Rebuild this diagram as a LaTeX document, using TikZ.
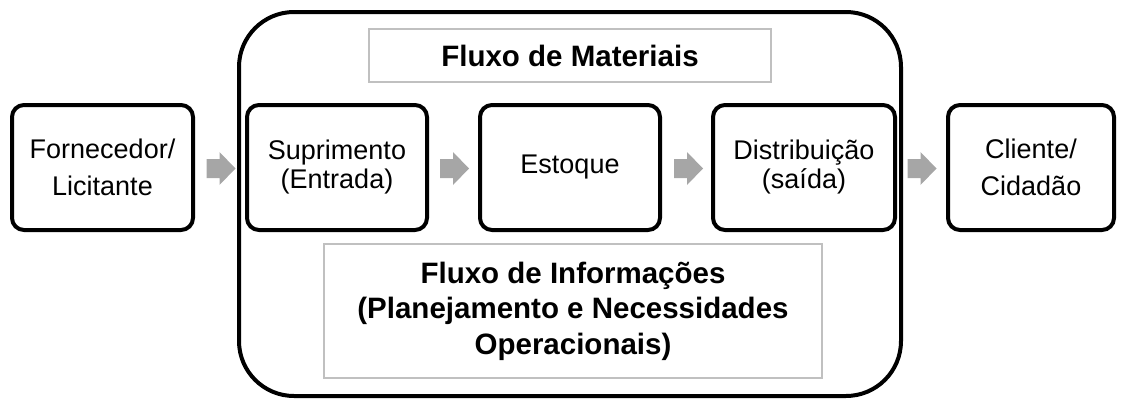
\documentclass[tikz,border=0pt]{standalone}
\usepackage{fontspec}
\setmainfont{Liberation Sans}
\definecolor{arrowgray}{HTML}{A6A6A6}
\definecolor{boxgray}{HTML}{C0C0C0}
\tikzset{
  blackbox/.style={draw=black, line width=4pt, rounded corners=12pt, fill=white,
    minimum height=125pt, inner sep=0pt, align=center},
  outerfont/.style={font=\fontsize{27}{37}\selectfont},
  innerfont/.style={font=\fontsize{27}{29}\selectfont},
  graybox/.style={draw=boxgray, line width=2pt, fill=white, inner sep=0pt,
    align=center, font=\bfseries\fontsize{29.5}{35.5}\selectfont},
  bigbox/.style={draw=black, line width=4pt, rounded corners=55pt},
  blockarrow/.style={fill=arrowgray}
}
\newcommand\drawblockarrow[1]{%
  \fill[blockarrow, shift={(#1)}] (-14.5,-9.5) -- (-1.5,-9.5) -- (-1.5,-16.5) -- (14.5,0)
    -- (-1.5,16.5) -- (-1.5,9.5) -- (-14.5,9.5) -- cycle;}
\begin{document}
\begin{tikzpicture}[x=1pt, y=-1pt]
\useasboundingbox (0,0) rectangle (1127,399);
% big container
\node[bigbox, minimum width=662pt, minimum height=384pt] (main) at (570,204) {};
% gray boxes
\node[graybox, minimum width=402pt, minimum height=53pt] (mat) at (570,55.5) {Fluxo de Materiais};
\node[graybox, minimum width=498pt, minimum height=134pt] (info) at (573,311)
  {Fluxo de Informações\\(Planejamento e Necessidades\\Operacionais)};
% process boxes
\node[blackbox, outerfont, minimum width=181pt] (forn) at (102.5,167.5) {Fornecedor/\\Licitante};
\node[blackbox, innerfont, minimum width=180pt] (sup) at (337,167.5) {Suprimento\\(Entrada)};
\node[blackbox, innerfont, minimum width=180pt] (est) at (570,167.5) {Estoque};
\node[blackbox, innerfont, minimum width=182pt] (dist) at (804,167.5) {Distribuição\\(saída)};
\node[blackbox, outerfont, minimum width=166pt] (cli) at (1031,167.5) {Cliente/\\Cidadão};
% block arrows
\coordinate (a1) at (221,168.5);
\coordinate (a2) at (454.5,168.5);
\coordinate (a3) at (688.5,168.5);
\coordinate (a4) at (922,168.5);
\drawblockarrow{a1}
\drawblockarrow{a2}
\drawblockarrow{a3}
\drawblockarrow{a4}
\end{tikzpicture}
\end{document}
